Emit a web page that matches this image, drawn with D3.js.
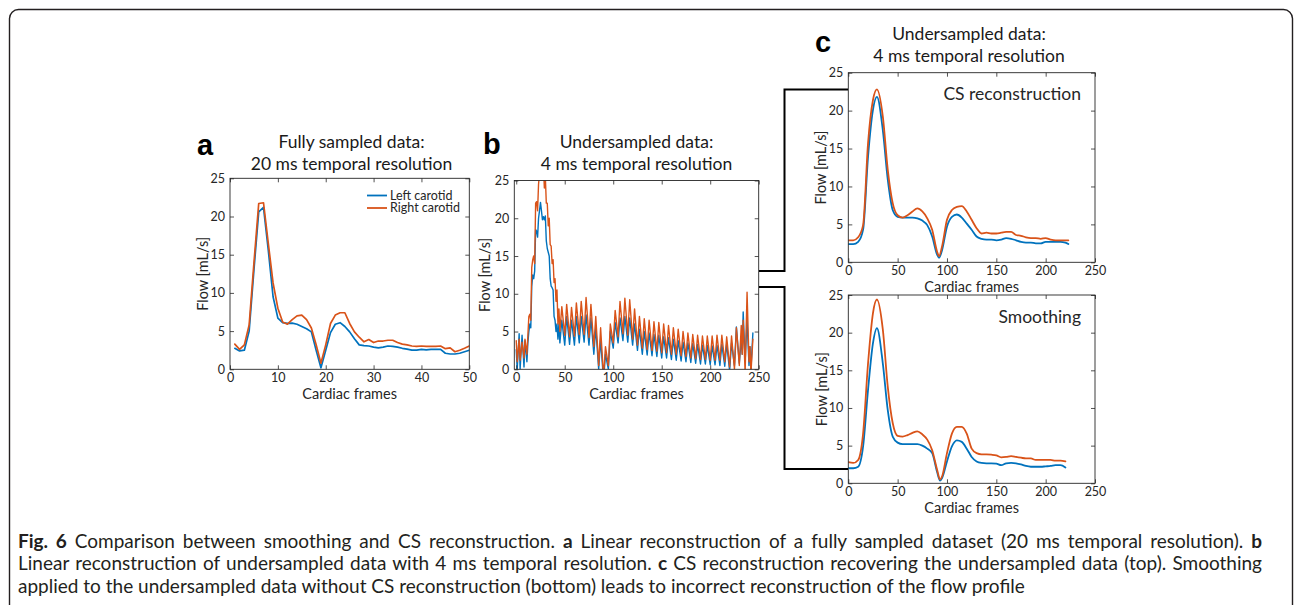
<!DOCTYPE html>
<html><head><meta charset="utf-8">
<script src="https://cdn.jsdelivr.net/npm/d3@7"></script>
<style>body{margin:0;background:#fff}svg{display:block}</style>
</head><body>
<svg id="chart" width="1295" height="605"></svg>
<script>
// ---------- DATA ----------
const yTicks = [0, 5, 10, 15, 20, 25];
const aXTicks = [0, 10, 20, 30, 40, 50];
const longXTicks = [0, 50, 100, 150, 200, 250];
const seriesNames = ["Left carotid", "Right carotid"];

// Panel a: fully sampled, 20 ms
const aFrames = d3.range(1, 51);
const aLeft = [2.75,2.4,2.5,5.0,13.0,20.6,21.2,15.6,9.5,6.7,
  6.1,6.0,6.05,5.9,5.6,5.3,4.9,2.5,0.2,2.5,
  4.8,5.9,6.1,5.6,4.9,4.0,3.2,3.1,3.05,2.9,
  2.8,2.9,3.05,3.0,2.9,2.75,2.65,2.5,2.5,2.6,
  2.55,2.6,2.6,2.6,2.1,2.0,2.0,2.1,2.3,2.5];
const aRight = [3.3,2.6,3.2,5.8,13.9,21.7,21.8,16.5,11.3,8.0,
  6.2,5.9,6.5,7.0,7.1,6.5,5.4,3.2,0.8,3.2,
  6.0,7.1,7.4,7.4,6.0,4.9,4.2,3.6,3.9,3.5,
  3.7,3.7,3.8,3.8,3.5,3.3,3.2,3.05,3.0,3.05,
  3.0,3.0,3.0,3.05,2.7,2.8,2.3,2.5,2.75,3.05];

// Panel b: undersampled, 4 ms (linear reconstruction)
const bFrames = [0,1,3,4,6,8,9,11,12,
  13,14,15,16,17,18,19,20,21,22,23,24,25,26,27,28,29,30,31,32,33,34,35,36,37,38,39,40,41,42,43,44,
  45,47,50,52,55,57,60,62,65,67,70,72,75,77,80,82,85,87,90,92,95,97,
  100,102,105,107,110,112,115,117,120,122,125,127,130,132,135,137,140,142,145,147,
  150,152,155,157,160,162,165,167,170,172,175,177,180,182,185,187,190,192,195,197,
  200,202,205,207,210,212,215,217,220,222,
  225,227,230,232,233,234,236,238,240,241,242,244];
const bLeft = [2.6,0.0,4.7,0.0,4.5,0.3,3.8,1.0,3.5,
  5.0,6.0,5.5,11.0,12.5,12.0,13.0,18.5,18.3,17.5,20.0,21.0,22.1,21.0,19.8,20.2,19.8,20.3,17.0,16.0,15.5,15.0,12.0,11.0,10.8,10.5,7.0,6.5,5.0,6.0,4.0,6.0,
  3.5,6.5,3.2,7.0,3.3,6.5,3.2,7.0,3.5,7.0,3.6,7.2,3.2,6.8,2.0,5.5,0.0,4.0,-1.5,2.0,0.0,5.0,
  2.8,6.2,3.5,6.8,3.8,7.0,3.6,6.8,3.2,6.0,2.5,5.3,2.0,5.0,1.9,4.8,1.8,4.6,1.7,4.5,
  1.5,4.3,1.5,4.2,1.3,4.0,1.2,3.8,1.1,3.6,1.0,3.5,0.9,3.4,0.8,3.3,0.7,3.2,0.7,3.2,
  0.6,3.1,0.6,3.2,0.5,3.3,0.4,3.4,-0.2,3.5,
  0.5,5.6,0.8,4.0,2.0,7.6,1.0,6.5,0.5,3.0,0.0,4.8];
const bRight = [3.8,1.0,4.0,1.2,3.6,1.5,4.0,2.0,4.5,
  7.0,7.3,6.5,13.5,14.5,15.0,14.0,22.0,22.2,21.0,24.5,26.0,27.0,25.5,26.5,27.0,24.0,25.5,22.0,22.0,19.0,20.0,16.5,16.3,14.0,14.5,11.5,12.0,9.0,10.5,6.0,8.0,
  5.0,8.3,4.5,8.6,4.3,8.2,4.4,8.8,4.6,9.0,4.6,9.5,4.2,8.6,3.0,7.0,0.5,5.5,-1.0,3.0,0.5,6.0,
  3.5,7.8,4.3,9.0,4.7,9.4,4.5,9.2,4.0,8.0,3.2,7.0,2.8,6.7,2.6,6.5,2.5,6.3,2.4,6.2,
  2.2,6.0,2.2,5.8,2.0,5.5,2.0,5.3,1.8,5.0,1.7,4.8,1.5,4.6,1.4,4.5,1.3,4.4,1.3,4.4,
  1.2,4.4,1.2,4.5,1.2,4.5,1.0,4.3,0.3,4.4,
  0.0,5.5,0.5,5.8,2.0,6.5,-0.5,10.2,1.0,3.0,-0.5,4.0];

// Panel c top: CS reconstruction
const cTopFrames = [0,5,10,15,20,25,29,35,40,45,50,55,60,65,70,75,80,85,90,92,95,100,105,110,115,120,125,130,135,140,145,150,155,160,165,170,175,180,185,190,195,200,205,210,215,220,223];
const cTopLeft = [2.4,2.4,2.7,4.3,13.9,20.1,21.8,17.4,10.9,6.9,6.0,5.9,5.9,5.9,5.8,5.5,4.9,3.4,1.0,0.6,1.6,4.7,6.0,6.3,5.9,5.1,4.3,3.4,3.1,3.0,3.0,2.9,3.0,3.2,3.1,2.9,2.7,2.6,2.6,2.5,2.5,2.7,2.7,2.7,2.7,2.6,2.4];
const cTopRight = [2.9,2.9,3.3,4.9,15.7,21.4,22.8,19.2,12.2,7.8,6.2,5.9,6.2,6.7,7.1,6.7,5.8,4.3,1.4,0.8,2.1,5.6,6.9,7.3,7.4,6.7,5.6,4.5,3.8,3.9,3.8,3.8,3.9,4.0,4.0,3.6,3.5,3.3,3.2,3.2,3.1,3.2,3.0,2.9,2.9,2.9,2.9];

// Panel c bottom: smoothing
const cBotFrames = [0,5,10,15,20,25,29,35,40,45,50,55,60,65,70,75,80,85,90,93,95,100,105,110,115,120,125,130,135,140,145,150,155,160,165,170,175,180,185,190,195,200,205,210,215,220];
const cBotLeft = [2.0,2.0,2.2,4.9,12.4,18.6,20.6,15.9,9.7,6.2,5.4,5.2,5.2,5.2,5.2,5.0,4.6,4.0,1.5,0.35,0.7,2.9,4.9,5.7,5.5,4.6,3.5,2.9,2.7,2.65,2.65,2.6,2.4,2.65,2.7,2.65,2.5,2.3,2.2,2.2,2.2,2.25,2.3,2.4,2.4,2.1];
const cBotRight = [2.8,2.7,3.1,6.6,15.9,22.6,24.4,20.4,12.8,8.0,6.3,6.2,6.4,6.7,6.9,6.5,5.8,4.4,1.8,0.5,0.9,4.0,6.6,7.5,7.5,6.6,4.6,4.0,3.85,3.85,3.8,3.7,3.45,3.5,3.6,3.5,3.4,3.3,3.3,3.1,3.1,3.1,3.1,3.0,3.0,2.9];

const captionLines = [
  [["Fig. 6", true], [" Comparison between smoothing and CS reconstruction. ", false], ["a", true], [" Linear reconstruction of a fully sampled dataset (20 ms temporal resolution). ", false], ["b", true]],
  [["Linear reconstruction of undersampled data with 4 ms temporal resolution. ", false], ["c", true], [" CS reconstruction recovering the undersampled data (top). Smoothing", false]],
  [["applied to the undersampled data without CS reconstruction (bottom) leads to incorrect reconstruction of the flow profile", false]]
];

// ---------- STYLE ----------
const INK = "#262626";
const BLUE = "#0072BD", ORANGE = "#D95319";
const FONT = "Lato, 'Open Sans', sans-serif";
const svg = d3.select("#chart");

// outer frame
svg.append("rect").attr("x", 9.5).attr("y", 9.5).attr("width", 1283).attr("height", 720)
  .attr("rx", 9).attr("fill", "none").attr("stroke", "#231f20").attr("stroke-width", 1.4);

function drawPanel(p) {
  const x = d3.scaleLinear().domain(p.xDomain).range([p.left, p.right]);
  const y = d3.scaleLinear().domain([0, 25]).range([p.bottom, p.top]);
  const id = "clip-" + p.id;
  svg.append("clipPath").attr("id", id).append("rect")
    .attr("x", p.left).attr("y", p.top).attr("width", p.right - p.left).attr("height", p.bottom - p.top);
  const g = svg.append("g");
  p.series.forEach(s => {
    const pts = s.x.map((v, i) => ({x: v, y: s.y[i]}));
    g.append("path").attr("clip-path", `url(#${id})`)
      .attr("fill", "none").attr("stroke", s.color).attr("stroke-width", p.lw)
      .attr("stroke-linejoin", "round").attr("stroke-linecap", "round")
      .attr("d", d3.line().defined(d => d.y != null && !isNaN(d.y)).x(d => x(d.x)).y(d => y(d.y)).curve(p.curve || d3.curveLinear)(pts));
  });
  const tl = 4;
  const axes = [
    g.append("g").attr("transform", `translate(0,${p.bottom})`)
      .call(d3.axisBottom(x).tickValues(p.xTicks).tickSize(-tl).tickPadding(4).tickFormat(d3.format("d"))),
    g.append("g").attr("transform", `translate(0,${p.top})`)
      .call(d3.axisTop(x).tickValues(p.xTicks).tickSize(-tl).tickFormat("")),
    g.append("g").attr("transform", `translate(${p.left},0)`)
      .call(d3.axisLeft(y).tickValues(yTicks).tickSize(-tl).tickPadding(5).tickFormat(d3.format("d"))),
    g.append("g").attr("transform", `translate(${p.right},0)`)
      .call(d3.axisRight(y).tickValues(yTicks).tickSize(-tl).tickFormat(""))
  ];
  axes.forEach(a => {
    a.select(".domain").remove();
    a.selectAll("line").attr("stroke", INK).attr("stroke-width", 0.8);
    a.selectAll("text").attr("fill", INK).attr("font-family", FONT).attr("font-size", 12.5);
  });
  g.append("rect").attr("x", p.left).attr("y", p.top).attr("width", p.right - p.left).attr("height", p.bottom - p.top)
    .attr("fill", "none").attr("stroke", INK).attr("stroke-width", 0.9);
  if (p.xLabel) {
    g.append("text").attr("x", (p.left + p.right) / 2).attr("y", p.bottom + 30)
      .attr("text-anchor", "middle").attr("font-family", FONT).attr("font-size", 14.5).attr("fill", INK)
      .text("Cardiac frames");
  }
  g.append("text").attr("transform", `translate(${p.left - p.yLabelOff},${(p.top + p.bottom) / 2}) rotate(-90)`)
    .attr("text-anchor", "middle").attr("dy", "0.35em").attr("font-family", FONT).attr("font-size", 14.5).attr("fill", INK)
    .text("Flow [mL/s]");
  return {x, y, g};
}

// Panel a
const pa = drawPanel({id: "a", left: 230, right: 469.3, top: 178.3, bottom: 369.3, xDomain: [0, 50], xTicks: aXTicks,
  lw: 1.7, xLabel: true, yLabelOff: 27.5,
  series: [{x: aFrames, y: aLeft, color: BLUE}, {x: aFrames, y: aRight, color: ORANGE}]});
[BLUE, ORANGE].forEach((c, i) => {
  const yy = 195.5 + i * 12.5;
  pa.g.append("line").attr("x1", 367).attr("x2", 387).attr("y1", yy).attr("y2", yy).attr("stroke", c).attr("stroke-width", 1.8);
  pa.g.append("text").attr("x", 390).attr("y", yy).attr("dy", "0.35em").attr("font-family", FONT).attr("font-size", 12.5)
    .attr("fill", INK).text(seriesNames[i]);
});

// Panel b
drawPanel({id: "b", left: 514.3, right: 758.7, top: 180.5, bottom: 369.3, xDomain: [-2, 250], xTicks: longXTicks,
  lw: 1.4, xLabel: true, yLabelOff: 29,
  series: [{x: bFrames, y: bLeft, color: BLUE}, {x: bFrames, y: bRight, color: ORANGE}]});

// Panel c top
const pct = drawPanel({id: "ct", left: 848.3, right: 1095, top: 72.7, bottom: 262.3, xDomain: [0, 250], xTicks: longXTicks,
  lw: 1.8, xLabel: true, yLabelOff: 27, curve: d3.curveMonotoneX,
  series: [{x: cTopFrames, y: cTopLeft, color: BLUE}, {x: cTopFrames, y: cTopRight, color: ORANGE}]});
pct.g.append("text").attr("x", 1081).attr("y", 100).attr("text-anchor", "end").attr("font-family", FONT)
  .attr("font-size", 17.5).attr("fill", INK).text("CS reconstruction");

// Panel c bottom
const pcb = drawPanel({id: "cb", left: 848.3, right: 1095, top: 295, bottom: 483.3, xDomain: [0, 250], xTicks: longXTicks,
  lw: 1.8, xLabel: true, yLabelOff: 26, curve: d3.curveMonotoneX,
  series: [{x: cBotFrames, y: cBotLeft, color: BLUE}, {x: cBotFrames, y: cBotRight, color: ORANGE}]});
pcb.g.append("text").attr("x", 1081).attr("y", 322.7).attr("text-anchor", "end").attr("font-family", FONT)
  .attr("font-size", 17.5).attr("fill", INK).text("Smoothing");

// Titles
function title(cx, y1, l1, l2) {
  [l1, l2].forEach((t, i) => svg.append("text").attr("x", cx).attr("y", y1 + i * 22)
    .attr("text-anchor", "middle").attr("font-family", FONT).attr("font-size", 17.5).attr("fill", "#1a1a1a").text(t));
}
title(351.5, 148.3, "Fully sampled data:", "20 ms temporal resolution");
title(636.5, 148.3, "Undersampled data:", "4 ms temporal resolution");
title(969, 39.5, "Undersampled data:", "4 ms temporal resolution");

// Panel letters
[["a", 197, 155], ["b", 483, 154], ["c", 815, 52]].forEach(([t, xx, yy]) =>
  svg.append("text").attr("x", xx).attr("y", yy).attr("font-family", "'Liberation Sans', Arial, sans-serif")
    .attr("font-weight", "bold").attr("font-size", 29).attr("fill", "#000").text(t));

// Connectors
svg.append("path").attr("d", "M759,271H784.5V89.5H848").attr("fill", "none").attr("stroke", "#000").attr("stroke-width", 2);
svg.append("path").attr("d", "M759,287H784.5V469H848").attr("fill", "none").attr("stroke", "#000").attr("stroke-width", 2);

// Caption (lines 1-2 justified)
const capX = 18, capW = 1244, capY = [547.5, 570, 592.5];
captionLines.forEach((parts, li) => {
  const t = svg.append("text").attr("x", capX).attr("y", capY[li]).attr("font-family", FONT)
    .attr("font-size", 19).attr("fill", "#231f20").style("white-space", "pre");
  parts.forEach(([s, b]) => t.append("tspan").attr("font-weight", b ? "bold" : "normal").text(s));
  if (li < 2) {
    const node = t.node();
    const nat = node.getComputedTextLength();
    const spaces = (node.textContent.match(/ /g) || []).length;
    if (nat < capW) t.attr("word-spacing", (capW - nat) / spaces);
    else t.attr("textLength", capW).attr("lengthAdjust", "spacingAndGlyphs");
  }
});
</script>
</body></html>
